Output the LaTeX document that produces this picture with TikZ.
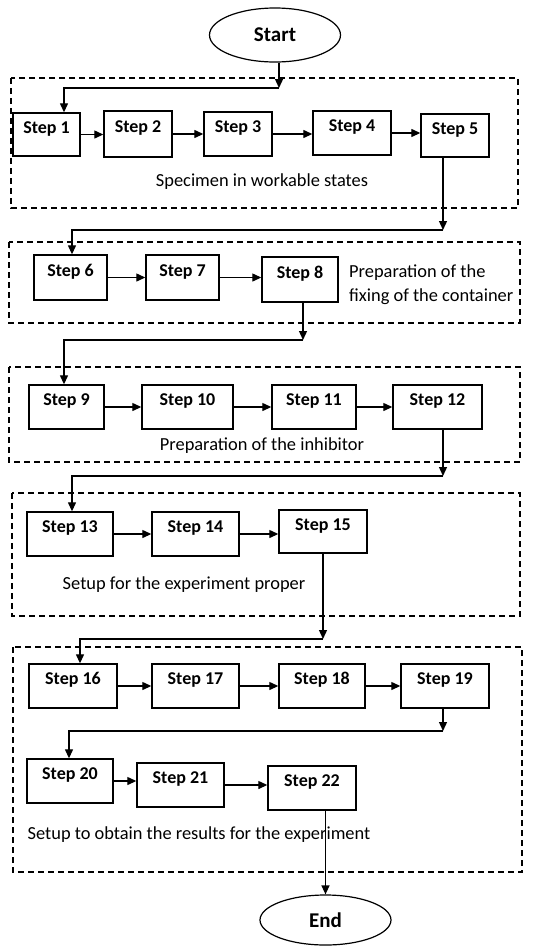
\documentclass[tikz,border=0pt]{standalone}
\usepackage{fontspec}
\setmainfont{Carlito}
\usetikzlibrary{arrows.meta,shapes.geometric}
\begin{document}
\begin{tikzpicture}[x=1pt,y=-1pt,
  stepbox/.style={draw, line width=1.4pt, rectangle, inner xsep=0pt, inner ysep=0pt,
    minimum height=43pt, text height=20pt, text depth=23pt,
    font=\fontsize{18}{20}\selectfont\bfseries},
  term/.style={draw, line width=1.2pt, ellipse, inner sep=0pt, minimum width=131pt,
    font=\fontsize{21}{24}\selectfont\bfseries},
  group/.style={draw, line width=1.2pt, dash pattern=on 6pt off 4pt},
  lbl/.style={font=\fontsize{18.4}{24}\selectfont, inner sep=0pt},
  conn/.style={line width=1.3pt},
  arr/.style={line width=1.3pt, -{Triangle[length=9pt,width=8pt]}}
]
\useasboundingbox (0,0) rectangle (546,946);

% groups
\draw[group] (11,78) rectangle (518,208);
\draw[group] (9,242) rectangle (520,323);
\draw[group] (9,367) rectangle (520,462);
\draw[group] (12,493) rectangle (520,616);
\draw[group] (13,647) rectangle (522,872);

% terminals
\node[term, minimum height=54pt] (start) at (275,35) {Start};
\node[term, minimum height=50pt] (end) at (325.5,920) {End};

% steps
\node[stepbox, minimum width=67pt] (s1) at (46.5,134.5) {Step 1};
\node[stepbox, minimum width=68pt, minimum height=46pt] (s2) at (138,134) {Step 2};
\node[stepbox, minimum width=68pt, minimum height=44pt] (s3) at (238,134) {Step 3};
\node[stepbox, minimum width=78pt, minimum height=44pt] (s4) at (352,133) {Step 4};
\node[stepbox, minimum width=68pt] (s5) at (455,135.5) {Step 5};

\node[stepbox, minimum width=73pt, minimum height=45pt] (s6) at (70.5,277.5) {Step 6};
\node[stepbox, minimum width=73pt, minimum height=45pt] (s7) at (182.5,277.5) {Step 7};
\node[stepbox, minimum width=76pt, minimum height=45pt] (s8) at (300,279.5) {Step 8};

\node[stepbox, minimum width=75pt, minimum height=44pt] (s9) at (66.5,407) {Step 9};
\node[stepbox, minimum width=91pt, minimum height=44pt] (s10) at (187.5,407) {Step 10};
\node[stepbox, minimum width=84pt, minimum height=44pt] (s11) at (314,407) {Step 11};
\node[stepbox, minimum width=89pt, minimum height=44pt] (s12) at (437.5,407) {Step 12};

\node[stepbox, minimum width=86pt, minimum height=44pt] (s13) at (70,534) {Step 13};
\node[stepbox, minimum width=87pt, minimum height=44pt] (s14) at (195.5,534) {Step 14};
\node[stepbox, minimum width=88pt] (s15) at (323,531.5) {Step 15};

\node[stepbox, minimum width=88pt, minimum height=44pt] (s16) at (73,686) {Step 16};
\node[stepbox, minimum width=87pt, minimum height=44pt] (s17) at (195.5,686) {Step 17};
\node[stepbox, minimum width=86pt, minimum height=44pt] (s18) at (322,686) {Step 18};
\node[stepbox, minimum width=88pt, minimum height=44pt] (s19) at (445,686) {Step 19};

\node[stepbox, minimum width=86pt, minimum height=44pt] (s20) at (70,781) {Step 20};
\node[stepbox, minimum width=87pt, minimum height=44pt] (s21) at (180.5,785) {Step 21};
\node[stepbox, minimum width=88pt, minimum height=44pt] (s22) at (312,788) {Step 22};

% labels
\node[lbl] (l1) at (262,182) {Specimen in workable states};
\node[lbl, anchor=west, align=left] (l2) at (349,285) {Preparation of the\\fixing of the container};
\node[lbl] (l3) at (262,446) {Preparation of the inhibitor};
\node[lbl] (l4) at (184,585) {Setup for the experiment proper};
\node[lbl] (l5) at (199,835) {Setup to obtain the results for the experiment};

% connector corners
\coordinate (c0) at (279,88);  \coordinate (c0b) at (64,88);
\coordinate (c1) at (443,230); \coordinate (c1b) at (72,230);
\coordinate (c2) at (303,340); \coordinate (c2b) at (64,340);
\coordinate (c3) at (443,476); \coordinate (c3b) at (72,476);
\coordinate (c4) at (323,639); \coordinate (c4b) at (80,639);
\coordinate (c5) at (443,731); \coordinate (c5b) at (69,731);

% row transitions
\draw[arr] (start.south -| c0) -- (c0);
\draw[arr] (c0) -- (c0b) -- (s1.north -| c0b);
\draw[arr] (s5.south -| c1) -- (c1);
\draw[arr] (c1) -- (c1b) -- (s6.north -| c1b);
\draw[arr] (s8.south -| c2) -- (c2);
\draw[arr] (c2) -- (c2b) -- (s9.north -| c2b);
\draw[arr] (s12.south -| c3) -- (c3);
\draw[arr] (c3) -- (c3b) -- (s13.north -| c3b);
\draw[arr] (s15.south -| c4) -- (c4);
\draw[arr] (c4) -- (c4b) -- (s16.north -| c4b);
\draw[arr] (s19.south -| c5) -- (c5);
\draw[arr] (c5) -- (c5b) -- (s20.north -| c5b);
\draw[arr] (s22.south -| end.north) -- (end.north);

% horizontal arrows
\foreach \a/\b in {s1/s2,s2/s3,s3/s4,s4/s5,s6/s7,s7/s8,s9/s10,s10/s11,s11/s12,
  s13/s14,s14/s15,s16/s17,s17/s18,s18/s19,s20/s21,s21/s22}
  \draw[arr] (\a.east) -- (\a.east -| \b.west);
\end{tikzpicture}
\end{document}
